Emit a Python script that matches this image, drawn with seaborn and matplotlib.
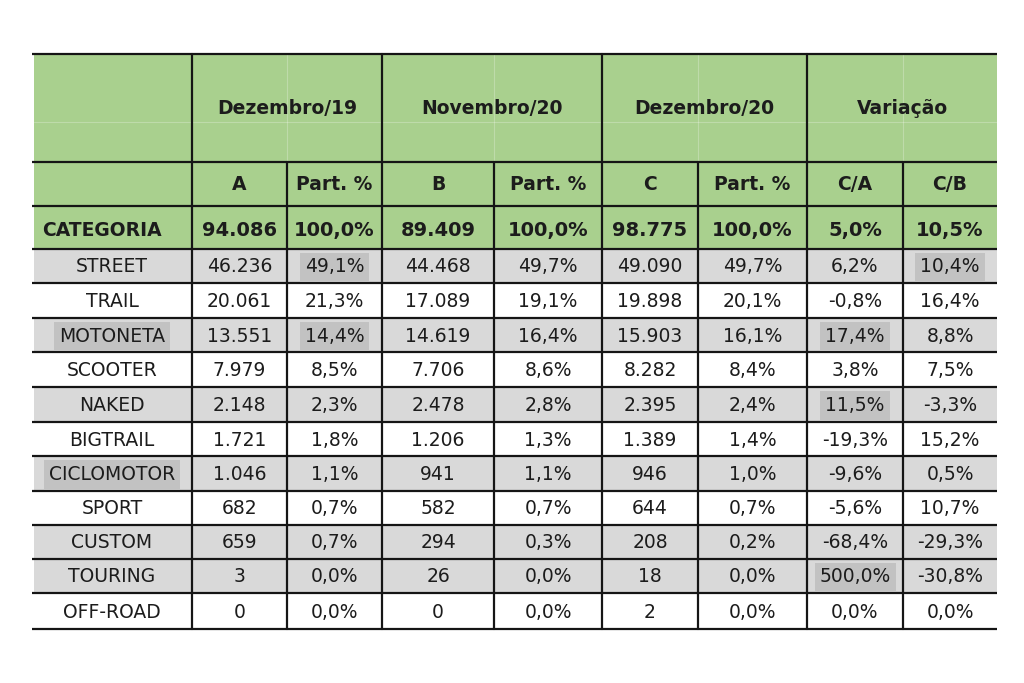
import matplotlib
matplotlib.use("Agg")
import matplotlib.pyplot as plt
from matplotlib.patches import Rectangle
import seaborn as sns

# ---------------- data ----------------
groups = ["Dezembro/19", "Novembro/20", "Dezembro/20", "Variação"]
subheaders = ["A", "Part. %", "B", "Part. %", "C", "Part. %", "C/A", "C/B"]
total_label = "CATEGORIA"
totals = [94086, 100.0, 89409, 100.0, 98775, 100.0, 5.0, 10.5]

categories = ["STREET", "TRAIL", "MOTONETA", "SCOOTER", "NAKED", "BIGTRAIL",
              "CICLOMOTOR", "SPORT", "CUSTOM", "TOURING", "OFF-ROAD"]
dez19 = [46236, 20061, 13551, 7979, 2148, 1721, 1046, 682, 659, 3, 0]
part_a = [49.1, 21.3, 14.4, 8.5, 2.3, 1.8, 1.1, 0.7, 0.7, 0.0, 0.0]
nov20 = [44468, 17089, 14619, 7706, 2478, 1206, 941, 582, 294, 26, 0]
part_b = [49.7, 19.1, 16.4, 8.6, 2.8, 1.3, 1.1, 0.7, 0.3, 0.0, 0.0]
dez20 = [49090, 19898, 15903, 8282, 2395, 1389, 946, 644, 208, 18, 2]
part_c = [49.7, 20.1, 16.1, 8.4, 2.4, 1.4, 1.0, 0.7, 0.2, 0.0, 0.0]
var_ca = [6.2, -0.8, 17.4, 3.8, 11.5, -19.3, -9.6, -5.6, -68.4, 500.0, 0.0]
var_cb = [10.4, 16.4, 8.8, 7.5, -3.3, 15.2, 0.5, 10.7, -29.3, -30.8, 0.0]
gray_rows = [True, False, True, False, True, False, True, False, True, True, False]
# highlighted cells: (row index, column index; 0 = label column)
highlights = [(0, 2), (0, 8), (2, 0), (2, 2), (2, 7), (4, 7), (6, 0), (9, 7)]

# ---------------- layout (pixels) ----------------
x_edges = [32, 192, 287, 382, 494, 602, 698, 807, 903, 997]
y_edges = [54, 162, 206, 249, 283, 318, 352, 387, 422, 456, 491, 525, 559, 593, 629]

GREEN = "#a9d08e"
GRAY = "#d9d9d9"
DARK = "#c2c2c2"
LINE = "#151515"
TXT = "#1c1c1c"

sns.set_theme(style="white")
plt.rcParams["font.family"] = ["DejaVu Sans"]

fig = plt.figure(figsize=(10.24, 6.83), dpi=100)
ax = fig.add_axes([0, 0, 1, 1])
ax.set_xlim(0, 1024)
ax.set_ylim(683, 0)
ax.axis("off")


def fmt_int(v):
    return f"{v:,}".replace(",", ".")


def fmt_pct(v):
    return f"{v:.1f}%".replace(".", ",")


# header background
ax.add_patch(Rectangle((x_edges[0] + 2, y_edges[0]), x_edges[-1] - x_edges[0] - 2,
                       y_edges[3] - y_edges[0], fc=GREEN, ec="none", zorder=0))
# faint white grid inside top header row
for xi in [x_edges[2], x_edges[4], x_edges[6], x_edges[8]]:
    ax.plot([xi, xi], [y_edges[0], y_edges[1]], color="white", alpha=0.25, lw=0.8, zorder=1)
ax.plot([x_edges[0] + 2, x_edges[-1]], [(y_edges[0] + y_edges[1]) / 2 + 14] * 2,
        color="white", alpha=0.25, lw=0.8, zorder=1)

# data row backgrounds
for i, g in enumerate(gray_rows):
    y0 = y_edges[3 + i]
    ax.add_patch(Rectangle((x_edges[0] + 2, y0), x_edges[-1] - x_edges[0] - 2,
                           y_edges[4 + i] - y0, fc=GRAY if g else "white", ec="none", zorder=0))

# horizontal lines
for y in y_edges:
    ax.plot([x_edges[0], x_edges[-1]], [y, y], color=LINE, lw=1.6, zorder=3,
            solid_capstyle="butt")
# vertical lines
group_bounds = [x_edges[1], x_edges[3], x_edges[5], x_edges[7]]
for xi in group_bounds:
    ax.plot([xi, xi], [y_edges[0], y_edges[-1]], color=LINE, lw=1.6, zorder=3)
for xi in [x_edges[2], x_edges[4], x_edges[6], x_edges[8]]:
    ax.plot([xi, xi], [y_edges[1], y_edges[-1]], color=LINE, lw=1.6, zorder=3)

# group headers
for k, g in enumerate(groups):
    xc = (x_edges[1 + 2 * k] + x_edges[3 + 2 * k]) / 2
    yc = (y_edges[0] + y_edges[1]) / 2 + 1
    ax.text(xc, yc, g, ha="center", va="center", fontsize=13.5, fontweight="bold", color=TXT, zorder=4)

# sub headers
for j, s in enumerate(subheaders):
    xc = (x_edges[1 + j] + x_edges[2 + j]) / 2
    yc = (y_edges[1] + y_edges[2]) / 2 + 1
    ax.text(xc, yc, s, ha="center", va="center", fontsize=13.5, fontweight="bold", color=TXT, zorder=4)

# totals row
yc = (y_edges[2] + y_edges[3]) / 2 + 3
ax.text(x_edges[0] + 10, yc, total_label, ha="left", va="center", fontsize=13.5,
        fontweight="bold", color=TXT, zorder=4)
for j, v in enumerate(totals):
    xc = (x_edges[1 + j] + x_edges[2 + j]) / 2
    s = fmt_int(v) if j in (0, 2, 4) else fmt_pct(v)
    ax.text(xc, yc, s, ha="center", va="center", fontsize=14, fontweight="bold", color=TXT, zorder=4)

# data rows
columns = [dez19, part_a, nov20, part_b, dez20, part_c, var_ca, var_cb]
hl = set(highlights)
for i, cat in enumerate(categories):
    yc = (y_edges[3 + i] + y_edges[4 + i]) / 2 + 1
    cells = [cat] + [fmt_int(c[i]) if j in (0, 2, 4) else fmt_pct(c[i])
                     for j, c in enumerate(columns)]
    for j, s in enumerate(cells):
        xc = (x_edges[j] + x_edges[j + 1]) / 2
        kw = {}
        if (i, j) in hl:
            kw["bbox"] = dict(boxstyle="square,pad=0.26", fc=DARK, ec="none")
        ax.text(xc, yc, s, ha="center", va="center", fontsize=13.5, color=TXT, zorder=4, **kw)

fig.savefig("out.png", dpi=100, facecolor="white")
